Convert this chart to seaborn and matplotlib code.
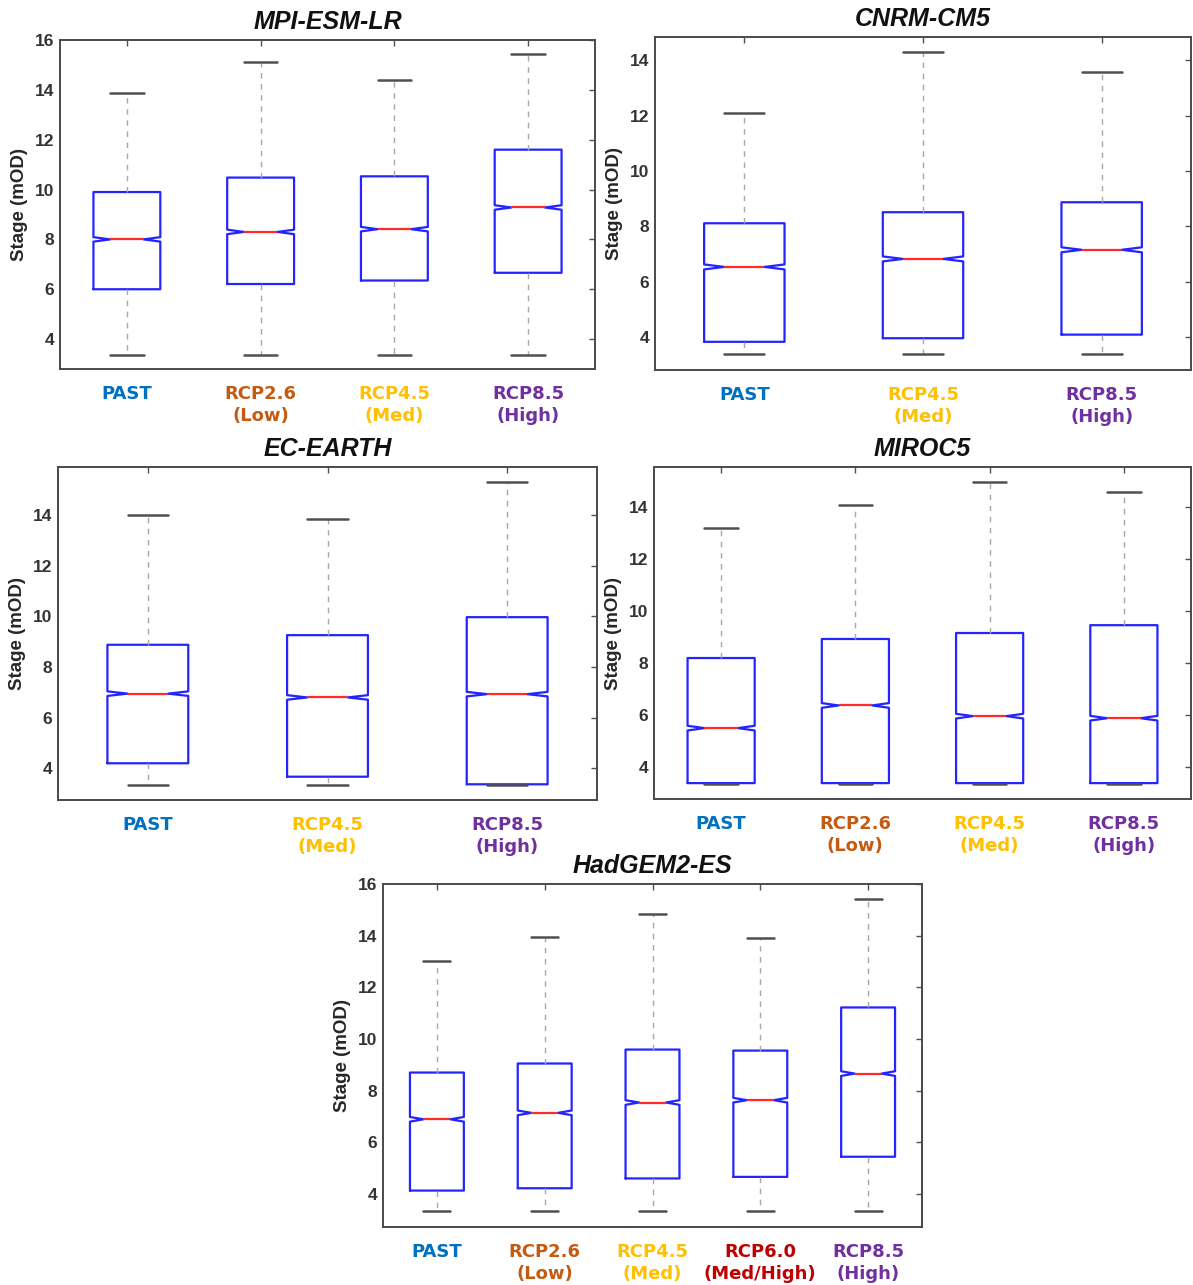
import matplotlib
matplotlib.use("Agg")
import matplotlib.pyplot as plt
import seaborn as sns

# ---- data: stage (mOD) box statistics per climate model and scenario ----
mpi_labels = ["PAST", "RCP2.6\n(Low)", "RCP4.5\n(Med)", "RCP8.5\n(High)"]
mpi_whislo = [3.37, 3.37, 3.37, 3.37]
mpi_q1 = [6.00, 6.21, 6.35, 6.66]
mpi_med = [8.00, 8.30, 8.41, 9.28]
mpi_q3 = [9.90, 10.48, 10.53, 11.60]
mpi_whishi = [13.88, 15.10, 14.39, 15.42]

cnrm_labels = ["PAST", "RCP4.5\n(Med)", "RCP8.5\n(High)"]
cnrm_whislo = [3.37, 3.37, 3.37]
cnrm_q1 = [3.82, 3.95, 4.08]
cnrm_med = [6.53, 6.82, 7.15]
cnrm_q3 = [8.11, 8.51, 8.87]
cnrm_whishi = [12.10, 14.29, 13.58]

ec_labels = ["PAST", "RCP4.5\n(Med)", "RCP8.5\n(High)"]
ec_whislo = [3.36, 3.36, 3.36]
ec_q1 = [4.20, 3.67, 3.37]
ec_med = [6.95, 6.80, 6.93]
ec_q3 = [8.88, 9.26, 9.97]
ec_whishi = [13.99, 13.84, 15.32]

miroc_labels = ["PAST", "RCP2.6\n(Low)", "RCP4.5\n(Med)", "RCP8.5\n(High)"]
miroc_whislo = [3.37, 3.37, 3.37, 3.37]
miroc_q1 = [3.39, 3.39, 3.39, 3.39]
miroc_med = [5.50, 6.37, 5.96, 5.88]
miroc_q3 = [8.19, 8.92, 9.15, 9.45]
miroc_whishi = [13.19, 14.05, 14.95, 14.56]

had_labels = ["PAST", "RCP2.6\n(Low)", "RCP4.5\n(Med)", "RCP6.0\n(Med/High)", "RCP8.5\n(High)"]
had_whislo = [3.35, 3.35, 3.35, 3.35, 3.35]
had_q1 = [4.13, 4.22, 4.60, 4.66, 5.44]
had_med = [6.89, 7.14, 7.54, 7.63, 8.66]
had_q3 = [8.70, 9.05, 9.59, 9.55, 11.22]
had_whishi = [13.03, 13.96, 14.85, 13.92, 15.41]

# scenario label colours
scenario_colors = {
    "PAST": "#0070C0",
    "RCP2.6": "#C55A11",
    "RCP4.5": "#FFC000",
    "RCP6.0": "#C00000",
    "RCP8.5": "#7030A0",
}

NOTCH_HALF = 0.09  # half-height of the median notch (mOD)

sns.set_theme(style="white")
plt.rcParams["font.family"] = ["Liberation Sans", "DejaVu Sans"]

W, H = 1193, 1285
fig = plt.figure(figsize=(W / 100, H / 100), dpi=100)


def add_panel(box_px, title, labels, whislo, q1, med, q3, whishi, ylim, yticks, width):
    left, top, right, bottom = box_px
    ax = fig.add_axes([left / W, 1 - bottom / H, (right - left) / W, (bottom - top) / H])
    stats = []
    for lo, a, m, b, hi in zip(whislo, q1, med, q3, whishi):
        stats.append(dict(whislo=lo, q1=a, med=m, q3=b, whishi=hi,
                          cilo=m - NOTCH_HALF, cihi=m + NOTCH_HALF, fliers=[]))
    positions = list(range(1, len(stats) + 1))
    ax.bxp(stats, positions=positions, widths=width, shownotches=True,
           showfliers=False, patch_artist=False,
           boxprops=dict(color="#2424ff", linewidth=1.6),
           medianprops=dict(color="#ff2a2a", linewidth=1.6),
           whiskerprops=dict(color="#a8a8a8", linewidth=1.0, linestyle=(0, (4, 4))),
           capprops=dict(color="#505050", linewidth=1.8))
    ax.set_xlim(0.5, len(stats) + 0.5)
    ax.set_ylim(*ylim)
    ax.set_yticks(yticks)
    ax.set_yticklabels([str(t) for t in yticks], fontsize=12.5, fontweight="bold",
                       color="#333333")
    ax.set_xticks(positions)
    ax.set_xticklabels(labels, fontsize=13, fontweight="bold", linespacing=1.3,
                       family=["DejaVu Sans"])
    for lab in ax.get_xticklabels():
        key = lab.get_text().split("\n")[0]
        lab.set_color(scenario_colors[key])
    ax.tick_params(axis="both", direction="in", length=4, width=1.0,
                   color="#505050", top=True, right=True)
    ax.tick_params(axis="x", pad=11.5)
    ax.tick_params(axis="y", pad=4)
    for sp in ax.spines.values():
        sp.set_visible(True)
        sp.set_color("#4a4a4a")
        sp.set_linewidth(1.4)
    ax.set_ylabel("Stage (mOD)", fontsize=13.5, fontweight="bold", color="#262626",
                  labelpad=5)
    ax.set_title(title, fontsize=18, fontweight="bold", fontstyle="italic",
                 color="#111111", pad=8)
    ax.set_facecolor("white")
    return ax


add_panel((60, 40, 595, 369), "MPI-ESM-LR", mpi_labels,
          mpi_whislo, mpi_q1, mpi_med, mpi_q3, mpi_whishi,
          (2.8, 16.0), [4, 6, 8, 10, 12, 14, 16], 0.5)
add_panel((655, 37, 1191, 370), "CNRM-CM5", cnrm_labels,
          cnrm_whislo, cnrm_q1, cnrm_med, cnrm_q3, cnrm_whishi,
          (2.8, 14.85), [4, 6, 8, 10, 12, 14], 0.45)
add_panel((58, 467, 597, 800), "EC-EARTH", ec_labels,
          ec_whislo, ec_q1, ec_med, ec_q3, ec_whishi,
          (2.75, 15.9), [4, 6, 8, 10, 12, 14], 0.45)
add_panel((654, 467, 1191, 799), "MIROC5", miroc_labels,
          miroc_whislo, miroc_q1, miroc_med, miroc_q3, miroc_whishi,
          (2.78, 15.52), [4, 6, 8, 10, 12, 14], 0.5)
add_panel((383, 884, 922, 1227), "HadGEM2-ES", had_labels,
          had_whislo, had_q1, had_med, had_q3, had_whishi,
          (2.72, 16.0), [4, 6, 8, 10, 12, 14, 16], 0.5)

fig.savefig("out.png", dpi=100, facecolor="white")
